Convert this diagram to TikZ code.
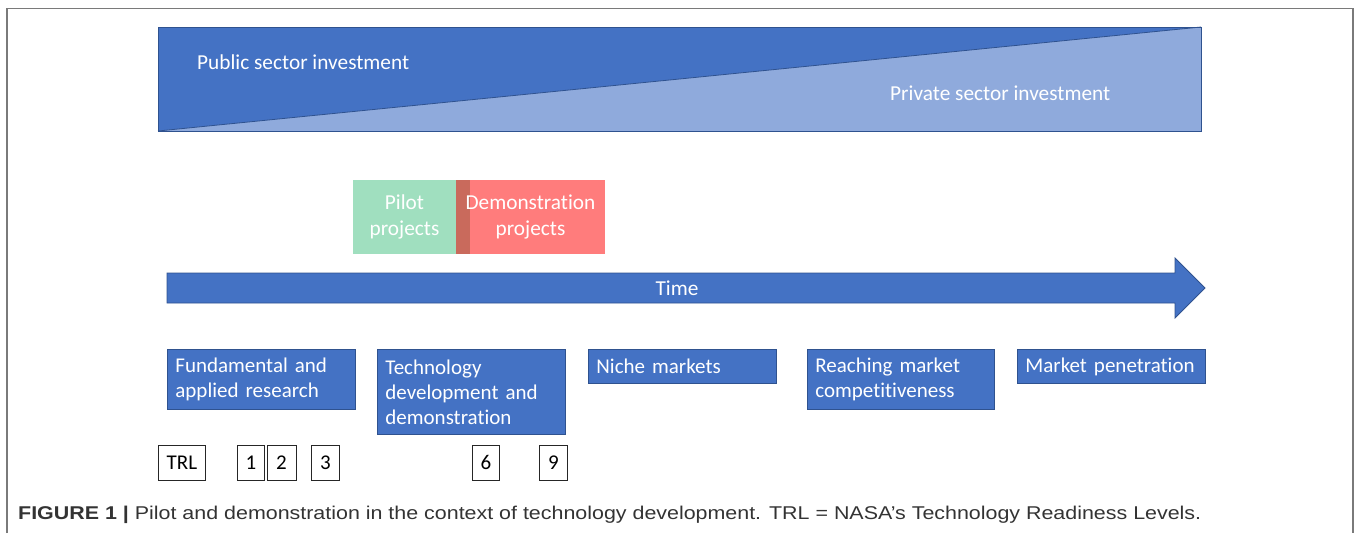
\documentclass[tikz,border=0pt]{standalone}
\usepackage{fontspec}
\setmainfont[Ligatures={NoCommon}]{Carlito}
\newfontfamily\capfont{Liberation Sans}
\usepackage{graphicx}
\definecolor{dblue}{HTML}{4472C4}
\definecolor{lblue}{HTML}{8FAADC}
\definecolor{bedge}{HTML}{2F528F}
\definecolor{pgreen}{HTML}{A0DFBF}
\definecolor{dred}{HTML}{FF7C7C}
\definecolor{ovl}{HTML}{C96A5C}
\definecolor{framec}{HTML}{7A7A7A}
\definecolor{capc}{HTML}{333333}
\begin{document}
\begin{tikzpicture}[x=1pt,y=-1pt,
  bbox/.style={draw=bedge, line width=0.8pt, fill=dblue, text=white, anchor=north west,
    inner xsep=8pt, inner ysep=0pt, align=left, font=\fontsize{21}{25}\selectfont},
  trlbox/.style={draw=black!85, line width=0.8pt, fill=white, inner sep=0pt,
    minimum height=35pt, anchor=north west, font=\fontsize{21}{24}\selectfont},
  wlabel/.style={text=white, font=\fontsize{21.3}{25.5}\selectfont, inner sep=0pt}]
\useasboundingbox (0,0) rectangle (1355,533);
% frame
\draw[framec, line width=1.2pt] (7,533) -- (7,8.5) -- (1353,8.5) -- (1353,533);
% investment rectangle
\fill[dblue] (158,27) rectangle (1201,131);
\fill[lblue] (158,131) -- (1201,27) -- (1201,131) -- cycle;
\draw[bedge, line width=0.8pt] (158,131) -- (1201,27);
\draw[bedge, line width=0.8pt] (158,27) rectangle (1201,131);
\node[wlabel, anchor=west] (pub) at (197,62) {Public sector investment};
\node[wlabel, anchor=west] (priv) at (890,93) {Private sector investment};
% pilot / demonstration
\fill[pgreen] (353,180) rectangle (456,254);
\fill[dred] (470,180) rectangle (605,254);
\fill[ovl] (456,180) rectangle (470,254);
\node[wlabel, align=center] (pilot) at (404.5,217) {Pilot\\projects};
\node[wlabel, align=center] (demo) at (530.5,217) {Demonstration\\projects};
% time arrow
\filldraw[fill=dblue, draw=bedge, line width=0.8pt]
  (167,273) -- (1175,273) -- (1175,258) -- (1205,288) -- (1175,318) -- (1175,303) -- (167,303) -- cycle;
\node[wlabel] (time) at (677,288) {Time};
% stage boxes
\node[bbox, text width=172pt, minimum height=60pt] (fund) at (167,349) {Fundamental and\\applied research};
\node[bbox, text width=172pt, minimum height=85pt] (tech) at (377,349) {Technology\\development and\\demonstration};
\node[bbox, text width=172pt, minimum height=34pt] (niche) at (588,349) {Niche markets};
\node[bbox, text width=171pt, minimum height=60pt] (reach) at (807,349) {Reaching market\\competitiveness};
\node[bbox, text width=172pt, minimum height=34pt] (pen) at (1017,349) {Market penetration};
% TRL boxes
\node[trlbox, minimum width=47pt] (trl) at (158,445) {TRL};
\node[trlbox, minimum width=27pt] (t1) at (237,445) {1};
\node[trlbox, minimum width=29pt] (t2) at (266.5,445) {2};
\node[trlbox, minimum width=28pt] (t3) at (311,445) {3};
\node[trlbox, minimum width=27pt] (t6) at (472,445) {6};
\node[trlbox, minimum width=28pt] (t9) at (539,445) {9};
% caption
\node[anchor=base west, inner sep=0pt, text=capc, font=\capfont\fontsize{18.5}{22}\selectfont] (cap) at (18,519.5)
  {\resizebox{1183pt}{\height}{\textbf{FIGURE 1 |} Pilot and demonstration in the context of technology development. TRL = NASA’s Technology Readiness Levels.}};
\end{tikzpicture}
\end{document}
